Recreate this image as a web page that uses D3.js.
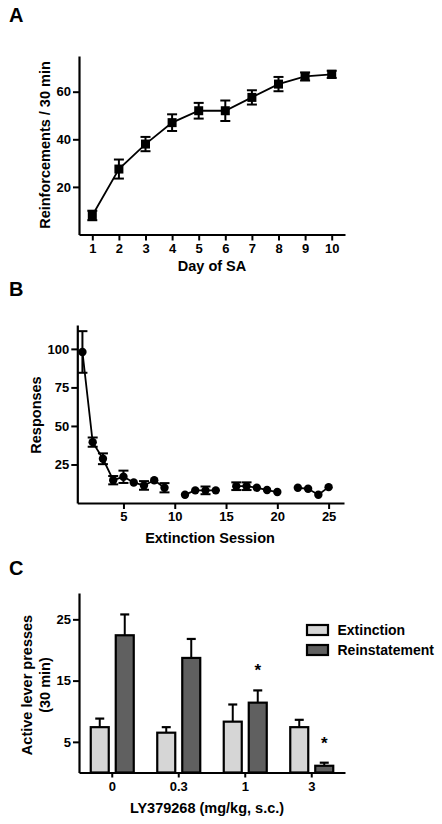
<!DOCTYPE html>
<html><head><meta charset="utf-8">
<script src="https://cdn.jsdelivr.net/npm/d3@7"></script>
<style>
body{margin:0;background:#fff;}
svg text{font-family:"Liberation Sans",Arial,sans-serif;}
</style></head>
<body><svg id="c" width="442" height="824"></svg>
<script>
// Panel A data
const daysA = [1,2,3,4,5,6,7,8,9,10];
const reinfMean = [8,27.5,38,47,52,52,57.6,63.2,66.4,67.3];
const reinfErr  = [2,4,3,3.5,3.3,4.3,3,3,1.7,1.5];
const ticksAy = [20,40,60];

// Panel B data (null = no session plotted)
const sessionsB = [1,2,3,4,5,6,7,8,9,10,11,12,13,14,15,16,17,18,19,20,21,22,23,24,25];
const respMean = [98,39.5,28.7,14.8,17,13.3,11.4,14.8,9.9,null,5.4,8.2,8.2,8.2,null,10.9,10.9,9.9,8.4,7.1,null,9.9,9.2,5.4,10.3];
const respErr  = [13.5,3,3.5,2.7,4,0,2.8,0,3,null,0,0,2.5,0,null,2.5,2.5,0,0,0,null,0,0,0,0];
const ticksBx = [5,10,15,20,25];
const ticksBy = [25,50,75,100];

// Panel C data
const doses = ["0","0.3","1","3"];
const seriesC = ["Extinction","Reinstatement"];
const extMean = [7.4,6.5,8.3,7.4];
const extErr  = [1.4,0.9,2.8,1.2];
const reinMean = [22.4,18.7,11.4,1.1];
const reinErr  = [3.4,3.1,2.0,0.5];
const sigC = [false,false,true,true];
const ticksCy = [5,15,25];
const colorsC = ["#d6d6d6","#606060"];

const svg = d3.select("#c");
const F = '"Liberation Sans",Arial,sans-serif';

function styleAxis(g){
  g.selectAll("path.domain").attr("stroke","#000").attr("stroke-width",2.2);
  g.selectAll(".tick line").attr("stroke","#000").attr("stroke-width",2);
  g.selectAll(".tick text").attr("fill","#000").attr("font-size",13).attr("font-weight","bold").attr("font-family",F);
}
function panelLetter(t,x,y){
  svg.append("text").attr("x",x).attr("y",y).text(t).attr("font-size",20).attr("font-weight","bold");
}
function title(t,x,y,rot){
  const el = svg.append("text").text(t).attr("font-size",14.5).attr("font-weight","bold").attr("text-anchor","middle");
  if(rot){ el.attr("transform",`translate(${x},${y}) rotate(-90)`).attr("dy","0.35em"); }
  else el.attr("x",x).attr("y",y);
  return el;
}

// ---------- Panel A ----------
panelLetter("A",9,22);
const xA = d3.scaleLinear().domain([0.5,10.5]).range([79,345]);
const yA = d3.scaleLinear().domain([0,75]).range([234.5,56]);
const gAx = svg.append("g").attr("transform",`translate(0,${yA(0)})`)
  .call(d3.axisBottom(xA).tickValues(daysA).tickSize(6).tickSizeOuter(0).tickPadding(3).tickFormat(d3.format("d")));
styleAxis(gAx);
const gAy = svg.append("g").attr("transform",`translate(${xA(0.5)},0)`)
  .call(d3.axisLeft(yA).tickValues(ticksAy).tickSize(6).tickSizeOuter(0).tickPadding(2));
styleAxis(gAy);
const dataA = daysA.map((d,i)=>({x:d,y:reinfMean[i],e:reinfErr[i]}));
svg.append("path").datum(dataA).attr("fill","none").attr("stroke","#000").attr("stroke-width",1.8)
  .attr("d",d3.line().x(d=>xA(d.x)).y(d=>yA(d.y)));
const eA = svg.append("g").attr("stroke","#000").attr("stroke-width",2);
dataA.forEach(d=>{
  const cx=xA(d.x);
  eA.append("line").attr("x1",cx).attr("x2",cx).attr("y1",yA(d.y-d.e)).attr("y2",yA(d.y+d.e));
  [d.y-d.e,d.y+d.e].forEach(v=>eA.append("line").attr("x1",cx-5).attr("x2",cx+5).attr("y1",yA(v)).attr("y2",yA(v)));
});
svg.append("g").selectAll("rect").data(dataA).join("rect")
  .attr("x",d=>xA(d.x)-4.5).attr("y",d=>yA(d.y)-4.5).attr("width",9).attr("height",9).attr("fill","#000");
title("Reinforcements / 30 min",45,145,true);
title("Day of SA",212,270.5,false);

// ---------- Panel B ----------
panelLetter("B",9,296);
const xB = d3.scaleLinear().domain([0.5,26.5]).range([77.3,344]);
const yB = d3.scaleLinear().domain([0,115.5]).range([503,325]);
const gBx = svg.append("g").attr("transform",`translate(0,${yB(0)})`)
  .call(d3.axisBottom(xB).tickValues(ticksBx).tickSize(6).tickSizeOuter(0).tickPadding(3));
styleAxis(gBx);
const gBy = svg.append("g").attr("transform",`translate(${xB(0.5)},0)`)
  .call(d3.axisLeft(yB).tickValues(ticksBy).tickSize(6).tickSizeOuter(0).tickPadding(2));
styleAxis(gBy);
const dataB = sessionsB.map((s,i)=>({x:s,y:respMean[i],e:respErr[i]}));
svg.append("path").datum(dataB).attr("fill","none").attr("stroke","#000").attr("stroke-width",1.8)
  .attr("d",d3.line().defined(d=>d.y!==null).x(d=>xB(d.x)).y(d=>yB(d.y)));
const valB = dataB.filter(d=>d.y!==null);
const eB = svg.append("g").attr("stroke","#000").attr("stroke-width",2);
valB.filter(d=>d.e>0).forEach(d=>{
  const cx=xB(d.x);
  eB.append("line").attr("x1",cx).attr("x2",cx).attr("y1",yB(d.y-d.e)).attr("y2",yB(d.y+d.e));
  [d.y-d.e,d.y+d.e].forEach(v=>eB.append("line").attr("x1",cx-5).attr("x2",cx+5).attr("y1",yB(v)).attr("y2",yB(v)));
});
svg.append("g").selectAll("circle").data(valB).join("circle")
  .attr("cx",d=>xB(d.x)).attr("cy",d=>yB(d.y)).attr("r",4.2).attr("fill","#000");
title("Responses",36,415,true);
title("Extinction Session",210,543,false);

// ---------- Panel C ----------
panelLetter("C",9,575);
const xC = d3.scaleBand().domain(doses).range([79,345]).padding(0);
const xCi = d3.scaleBand().domain(seriesC).range([0,xC.bandwidth()]).paddingInner(0.28).paddingOuter(0.47);
const yC = d3.scaleLinear().domain([0,29.3]).range([772.5,593]);
const dataC = doses.map((d,i)=>({dose:d,vals:[{s:seriesC[0],m:extMean[i],e:extErr[i]},{s:seriesC[1],m:reinMean[i],e:reinErr[i]}],sig:sigC[i]}));
const gBars = svg.append("g");
dataC.forEach(g=>{
  g.vals.forEach((v,j)=>{
    const x0 = xC(g.dose)+xCi(v.s), w = xCi.bandwidth(), cx = x0+w/2;
    gBars.append("line").attr("x1",cx).attr("x2",cx).attr("y1",yC(v.m)).attr("y2",yC(v.m+v.e)).attr("stroke","#000").attr("stroke-width",2);
    gBars.append("line").attr("x1",cx-4.5).attr("x2",cx+4.5).attr("y1",yC(v.m+v.e)).attr("y2",yC(v.m+v.e)).attr("stroke","#000").attr("stroke-width",2.2);
    gBars.append("rect").attr("x",x0).attr("y",yC(v.m)).attr("width",w).attr("height",yC(0)-yC(v.m))
      .attr("fill",colorsC[j]).attr("stroke","#000").attr("stroke-width",2.2);
  });
  if(g.sig){
    const v=g.vals[1];
    const cx = xC(g.dose)+xCi(v.s)+xCi.bandwidth()/2;
    svg.append("text").attr("x",cx).attr("y",yC(v.m+v.e)-14).attr("text-anchor","middle")
      .attr("font-size",17).attr("font-weight","bold").text("*");
  }
});
const gCx = svg.append("g").attr("transform",`translate(0,${yC(0)})`)
  .call(d3.axisBottom(xC).tickSize(5).tickSizeOuter(0).tickPadding(4));
styleAxis(gCx);
const gCy = svg.append("g").attr("transform",`translate(${xC.range()[0]},0)`)
  .call(d3.axisLeft(yC).tickValues(ticksCy).tickSize(6).tickSizeOuter(0).tickPadding(2));
styleAxis(gCy);
const yt = svg.append("text").attr("transform","translate(36,685) rotate(-90)").attr("text-anchor","middle")
  .attr("font-size",14.5).attr("font-weight","bold");
yt.append("tspan").attr("x",0).attr("dy","-0.25em").text("Active lever presses");
yt.append("tspan").attr("x",0).attr("dy","1.2em").text("(30 min)");
title("LY379268 (mg/kg, s.c.)",207,812.5,false);
// legend
const leg = svg.append("g");
seriesC.forEach((s,i)=>{
  leg.append("rect").attr("x",307).attr("y",625+i*20).attr("width",21).attr("height",10)
    .attr("fill",colorsC[i]).attr("stroke","#000").attr("stroke-width",2.2);
  leg.append("text").attr("x",337.5).attr("y",635+i*20).attr("font-size",14).attr("font-weight","bold").text(s);
});
</script></body></html>
